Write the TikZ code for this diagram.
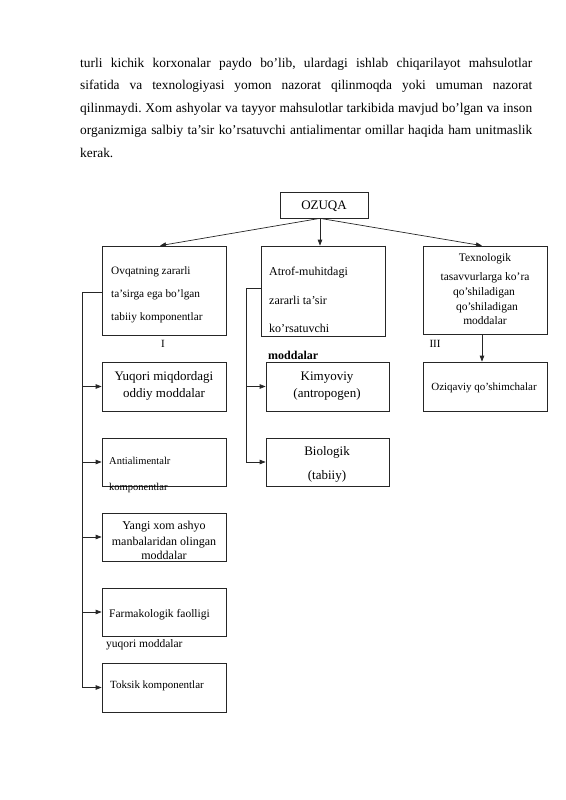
\documentclass[tikz,border=0pt]{standalone}
\usepackage{fontspec}
\setmainfont{Liberation Serif}
\usetikzlibrary{arrows.meta,calc}
\frenchspacing
\tikzset{
  box/.style={draw=black!85, line width=0.7pt, inner sep=0pt, minimum width=124pt},
  con/.style={draw=black!85, line width=0.7pt},
  arr/.style={con, -{Triangle[length=6pt,width=4.5pt]}},
  txt/.style={inner sep=0pt, anchor=base west},
  ctxt/.style={inner sep=0pt, anchor=base},
  para/.style={inner sep=0pt, anchor=base west, font=\fontsize{13.4}{15}\selectfont},
}
\newcommand{\fs}[1]{\fontsize{#1}{#1}\selectfont}
\begin{document}
\begin{tikzpicture}[x=1pt,y=-1pt]
\useasboundingbox (0,0) rectangle (565,800);
% paragraph
\node[para] (p1) at (80,67) {\makebox[452pt][s]{turli kichik korxonalar paydo bo’lib, ulardagi ishlab chiqarilayot mahsulotlar}};
\node[para] (p2) at (80,89.5) {\makebox[452pt][s]{sifatida va texnologiyasi yomon nazorat qilinmoqda yoki umuman nazorat}};
\node[para] (p3) at (80,112) {\makebox[452pt][s]{qilinmaydi. Xom ashyolar va tayyor mahsulotlar tarkibida mavjud bo’lgan va inson}};
\node[para] (p4) at (80,134.5) {\makebox[452pt][s]{organizmiga salbiy ta’sir ko’rsatuvchi antialimentar omillar haqida ham unitmaslik}};
\node[para] (p5) at (80,157) {kerak.};
% boxes
\node[box, minimum width=88pt, minimum height=26pt] (oz) at (324,205) {};
\node[box, minimum height=89pt] (b1) at (164,290.5) {};
\node[box, minimum height=90pt] (b2) at (323,291) {};
\draw[draw=black!85, line width=1.6pt] (b2.north east) -- (b2.south east) -- (b2.south west);
\node[box, minimum height=88pt] (b3) at (485,290) {};
\node[box, minimum height=49pt] (yq) at (164,386.5) {};
\node[box, minimum width=123pt, minimum height=49pt] (ki) at (327.5,386.5) {};
\node[box, minimum height=49pt] (oq) at (485,386.5) {};
\node[box, minimum height=48pt] (an) at (164,462) {};
\node[box, minimum width=123pt, minimum height=48pt] (bi) at (327.5,462) {};
\node[box, minimum height=48pt] (ya) at (164,537) {};
\node[box, minimum height=48pt] (fa) at (164,612) {};
\node[box, minimum height=49pt] (to) at (164,687.5) {};
% texts
\node[ctxt, font=\fs{13}] (tOz) at (324,209.5) {OZUQA};
\node[txt, font=\fs{11.3}] (t1a) at (111,274) {Ovqatning zararli};
\node[txt, font=\fs{11.3}] (t1b) at (111,297) {ta’sirga ega bo’lgan};
\node[txt, font=\fs{11.3}] (t1c) at (111,320) {tabiiy komponentlar};
\node[txt, font=\fs{12}] (t2a) at (269,275) {Atrof-muhitdagi};
\node[txt, font=\fs{12}] (t2b) at (269,304) {zararli ta’sir};
\node[txt, font=\fs{12}] (t2c) at (269,332) {ko’rsatuvchi};
\node[txt, font=\fs{12}\bfseries] (t2d) at (268,359.5) {moddalar};
\node[ctxt, font=\fs{11.5}] (t3a) at (485,261) {Texnologik};
\node[ctxt, font=\fs{11.5}] (t3b) at (485,280) {tasavvurlarga ko’ra};
\node[ctxt, font=\fs{11.5}] (t3c) at (484,295) {qo’shiladigan};
\node[ctxt, font=\fs{11.5}] (t3d) at (487,310) {qo’shiladigan};
\node[ctxt, font=\fs{11.5}] (t3e) at (485,324) {moddalar};
\node[ctxt, font=\fs{11}] (lI) at (163,347) {I};
\node[ctxt, font=\fs{11}] (lIII) at (435,347) {III};
\node[ctxt, font=\fs{13}] (tyq1) at (164,380) {Yuqori miqdordagi};
\node[ctxt, font=\fs{13}] (tyq2) at (164,397.5) {oddiy moddalar};
\node[ctxt, font=\fs{13}] (tki1) at (327,380) {Kimyoviy};
\node[ctxt, font=\fs{13}] (tki2) at (327,397.5) {(antropogen)};
\node[ctxt, font=\fs{11}] (toq) at (484,390) {Oziqaviy qo’shimchalar};
\node[txt, font=\fs{10.5}] (tan1) at (109,464.5) {Antialimentalr};
\node[txt, font=\fs{10.5}] (tan2) at (109,490.5) {komponentlar};
\node[ctxt, font=\fs{13}] (tbi1) at (327,455) {Biologik};
\node[ctxt, font=\fs{13}] (tbi2) at (327,479.5) {(tabiiy)};
\node[ctxt, font=\fs{12}] (tya1) at (164,529) {Yangi xom ashyo};
\node[ctxt, font=\fs{12}] (tya2) at (164,545) {manbalaridan olingan};
\node[ctxt, font=\fs{12}] (tya3) at (164,559.5) {moddalar};
\node[txt, font=\fs{11.5}] (tfa1) at (109,617) {Farmakologik faolligi};
\node[txt, font=\fs{11.5}] (tfa2) at (106,647) {yuqori moddalar};
\node[txt, font=\fs{11}] (tto) at (110,688) {Toksik komponentlar};
% connectors
\coordinate (ozb) at ($(oz.south)+(-4,0)$);
\draw[arr] (ozb) -- ($(b1.north)+(-4,0)$);
\draw[arr] (ozb) -- (ozb |- b2.north);
\draw[arr] (ozb) -- ($(b3.north)+(-3,0)$);
\draw[arr] ($(b3.south)+(-3,0)$) -- ($(oq.north)+(-3,0)$);
\coordinate (L) at (82,292);
\draw[con] (L -| b1.west) -- (L);
\draw[arr] (L) |- (to.west);
\draw[arr] (L |- yq.west) -- (yq.west);
\draw[arr] (L |- an.west) -- (an.west);
\draw[arr] (L |- ya.west) -- (ya.west);
\draw[arr] (L |- fa.west) -- (fa.west);
\coordinate (M) at (246,288);
\draw[con] (M -| b2.west) -- (M);
\draw[arr] (M) |- (bi.west);
\draw[arr] (M |- ki.west) -- (ki.west);
\end{tikzpicture}
\end{document}
